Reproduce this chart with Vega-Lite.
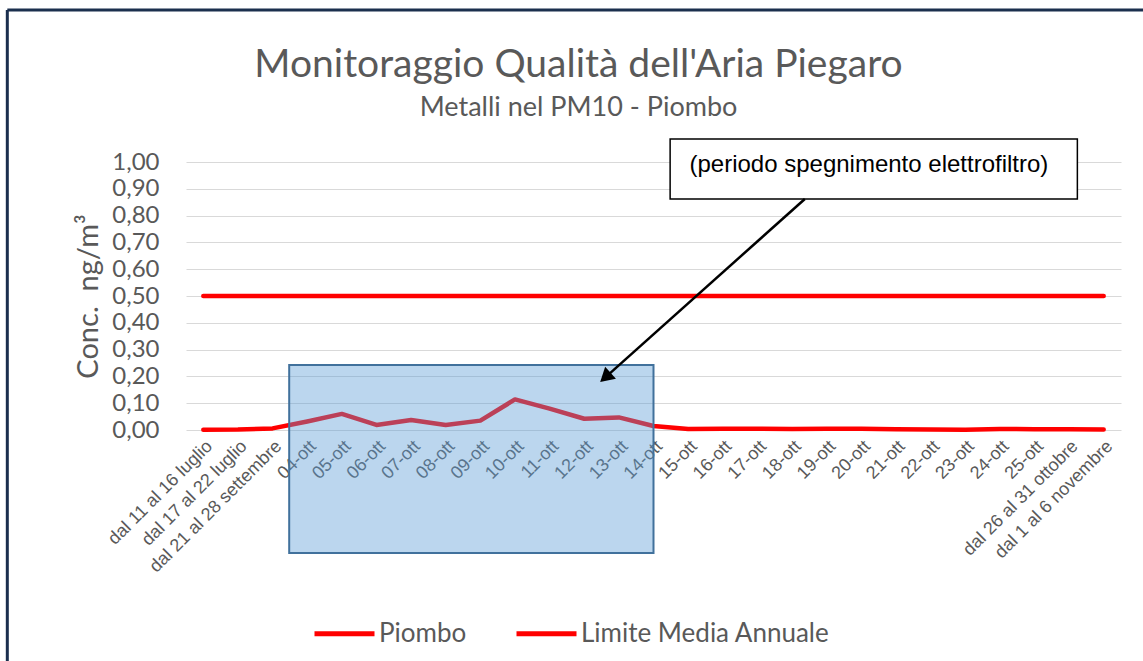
{
  "$schema": "https://vega.github.io/schema/vega-lite/v6.json",
  "width": 935,
  "height": 268,
  "autosize": "none",
  "padding": {"left": 186, "top": 162, "right": 22, "bottom": 231},
  "background": "white",
  "title": {
    "text": "Monitoraggio Qualità dell'Aria Piegaro",
    "subtitle": "Metalli nel PM10 - Piombo",
    "font": "Lato", "fontSize": 39, "fontWeight": "normal", "color": "#595959",
    "subtitleFont": "Lato", "subtitleFontSize": 27, "subtitleColor": "#595959",
    "subtitlePadding": 10, "anchor": "middle", "dx": -75, "offset": -112
  },
  "config": {"view": {"stroke": null}},
  "datasets": {
    "serie": [
      {"categoria": "dal 11 al 16 luglio", "serie": "Piombo", "valore": 0.001},
      {"categoria": "dal 17 al 22 luglio", "serie": "Piombo", "valore": 0.002},
      {"categoria": "dal 21 al 28 settembre", "serie": "Piombo", "valore": 0.006},
      {"categoria": "04-ott", "serie": "Piombo", "valore": 0.032},
      {"categoria": "05-ott", "serie": "Piombo", "valore": 0.060},
      {"categoria": "06-ott", "serie": "Piombo", "valore": 0.019},
      {"categoria": "07-ott", "serie": "Piombo", "valore": 0.037},
      {"categoria": "08-ott", "serie": "Piombo", "valore": 0.019},
      {"categoria": "09-ott", "serie": "Piombo", "valore": 0.035},
      {"categoria": "10-ott", "serie": "Piombo", "valore": 0.114},
      {"categoria": "11-ott", "serie": "Piombo", "valore": 0.080},
      {"categoria": "12-ott", "serie": "Piombo", "valore": 0.042},
      {"categoria": "13-ott", "serie": "Piombo", "valore": 0.047},
      {"categoria": "14-ott", "serie": "Piombo", "valore": 0.015},
      {"categoria": "15-ott", "serie": "Piombo", "valore": 0.004},
      {"categoria": "16-ott", "serie": "Piombo", "valore": 0.005},
      {"categoria": "17-ott", "serie": "Piombo", "valore": 0.005},
      {"categoria": "18-ott", "serie": "Piombo", "valore": 0.004},
      {"categoria": "19-ott", "serie": "Piombo", "valore": 0.005},
      {"categoria": "20-ott", "serie": "Piombo", "valore": 0.005},
      {"categoria": "21-ott", "serie": "Piombo", "valore": 0.003},
      {"categoria": "22-ott", "serie": "Piombo", "valore": 0.002},
      {"categoria": "23-ott", "serie": "Piombo", "valore": 0.001},
      {"categoria": "24-ott", "serie": "Piombo", "valore": 0.004},
      {"categoria": "25-ott", "serie": "Piombo", "valore": 0.003},
      {"categoria": "dal 26 al 31 ottobre", "serie": "Piombo", "valore": 0.003},
      {"categoria": "dal 1 al 6 novembre", "serie": "Piombo", "valore": 0.002},
      {"categoria": "dal 11 al 16 luglio", "serie": "Limite Media Annuale", "valore": 0.5},
      {"categoria": "dal 17 al 22 luglio", "serie": "Limite Media Annuale", "valore": 0.5},
      {"categoria": "dal 21 al 28 settembre", "serie": "Limite Media Annuale", "valore": 0.5},
      {"categoria": "04-ott", "serie": "Limite Media Annuale", "valore": 0.5},
      {"categoria": "05-ott", "serie": "Limite Media Annuale", "valore": 0.5},
      {"categoria": "06-ott", "serie": "Limite Media Annuale", "valore": 0.5},
      {"categoria": "07-ott", "serie": "Limite Media Annuale", "valore": 0.5},
      {"categoria": "08-ott", "serie": "Limite Media Annuale", "valore": 0.5},
      {"categoria": "09-ott", "serie": "Limite Media Annuale", "valore": 0.5},
      {"categoria": "10-ott", "serie": "Limite Media Annuale", "valore": 0.5},
      {"categoria": "11-ott", "serie": "Limite Media Annuale", "valore": 0.5},
      {"categoria": "12-ott", "serie": "Limite Media Annuale", "valore": 0.5},
      {"categoria": "13-ott", "serie": "Limite Media Annuale", "valore": 0.5},
      {"categoria": "14-ott", "serie": "Limite Media Annuale", "valore": 0.5},
      {"categoria": "15-ott", "serie": "Limite Media Annuale", "valore": 0.5},
      {"categoria": "16-ott", "serie": "Limite Media Annuale", "valore": 0.5},
      {"categoria": "17-ott", "serie": "Limite Media Annuale", "valore": 0.5},
      {"categoria": "18-ott", "serie": "Limite Media Annuale", "valore": 0.5},
      {"categoria": "19-ott", "serie": "Limite Media Annuale", "valore": 0.5},
      {"categoria": "20-ott", "serie": "Limite Media Annuale", "valore": 0.5},
      {"categoria": "21-ott", "serie": "Limite Media Annuale", "valore": 0.5},
      {"categoria": "22-ott", "serie": "Limite Media Annuale", "valore": 0.5},
      {"categoria": "23-ott", "serie": "Limite Media Annuale", "valore": 0.5},
      {"categoria": "24-ott", "serie": "Limite Media Annuale", "valore": 0.5},
      {"categoria": "25-ott", "serie": "Limite Media Annuale", "valore": 0.5},
      {"categoria": "dal 26 al 31 ottobre", "serie": "Limite Media Annuale", "valore": 0.5},
      {"categoria": "dal 1 al 6 novembre", "serie": "Limite Media Annuale", "valore": 0.5}
    ]
  },
  "layer": [
    {
      "data": {"name": "serie"},
      "mark": {"type": "line", "strokeWidth": 4.5, "strokeCap": "round", "strokeJoin": "round"},
      "encoding": {
        "x": {
          "field": "categoria", "type": "nominal", "sort": null,
          "scale": {"type": "band", "paddingInner": 0, "paddingOuter": 0},
          "axis": {
            "title": null, "labelAngle": -45, "labelFont": "Liberation Sans", "labelFontSize": 18,
            "labelColor": "#595959", "ticks": false, "domain": false, "grid": false,
            "labelPadding": 7, "labelOverlap": false, "labelLimit": 400
          }
        },
        "y": {
          "field": "valore", "type": "quantitative",
          "scale": {"domain": [0, 1]},
          "axis": {
            "title": "Conc.\u00a0 ng/m³", "titleFont": "Lato", "titleFontSize": 29, "titleFontWeight": "normal",
            "titleColor": "#595959", "titlePadding": 8,
            "values": [0, 0.1, 0.2, 0.3, 0.4, 0.5, 0.6, 0.7, 0.8, 0.9, 1],
            "tickCount": 12,
            "labelExpr": "replace(format(datum.value, '.2f'), '.', ',')",
            "labelFont": "Lato", "labelFontSize": 24, "labelColor": "#595959", "labelOverlap": false,
            "labelPadding": 27, "ticks": false, "domain": false,
            "grid": true, "gridColor": "#D9D9D9", "gridWidth": 1
          }
        },
        "color": {
          "field": "serie", "type": "nominal",
          "scale": {"domain": ["Piombo", "Limite Media Annuale"], "range": ["#FF0000", "#FF0000"]},
          "legend": {
            "title": null, "orient": "none", "legendX": 126, "legendY": 439, "direction": "horizontal",
            "symbolType": "stroke", "symbolSize": 3600, "symbolStrokeWidth": 5,
            "labelFont": "Lato", "labelFontSize": 26, "labelColor": "#595959", "labelLimit": 500,
            "labelOffset": 2, "columnPadding": 39
          }
        }
      }
    },
    {
      "layer": [
        {
          "data": {"values": [
            {"x": -5.66, "x2": 28, "y": 1.567, "y2": 1.567},
            {"x": -5.66, "x2": -5.66, "y": 1.567, "y2": -1}
          ]},
          "mark": {"type": "rule", "color": "#1B2F4E", "strokeWidth": 3},
          "encoding": {
            "x": {"field": "x", "type": "quantitative", "scale": {"domain": [-0.5, 26.5], "nice": false, "zero": false}, "axis": null},
            "x2": {"field": "x2"},
            "y": {"field": "y", "type": "quantitative", "scale": {"domain": [0, 1], "nice": false, "zero": false}, "axis": null},
            "y2": {"field": "y2"}
          }
        },
        {
          "data": {"values": [{"x": 2.48, "x2": 13.0, "y": 0.2425, "y2": -0.459}]},
          "mark": {"type": "rect", "fill": "#5B9BD5", "fillOpacity": 0.41, "stroke": "#41719C", "strokeWidth": 2},
          "encoding": {
            "x": {"field": "x", "type": "quantitative", "scale": {"domain": [-0.5, 26.5], "nice": false, "zero": false}, "axis": null},
            "x2": {"field": "x2"},
            "y": {"field": "y", "type": "quantitative", "scale": {"domain": [0, 1], "nice": false, "zero": false}, "axis": null},
            "y2": {"field": "y2"}
          }
        },
        {
          "data": {"values": [{"x": 13.48, "x2": 25.24, "y": 1.086, "y2": 0.862}]},
          "mark": {"type": "rect", "fill": "white", "stroke": "black", "strokeWidth": 1.5},
          "encoding": {
            "x": {"field": "x", "type": "quantitative", "scale": {"domain": [-0.5, 26.5], "nice": false, "zero": false}, "axis": null},
            "x2": {"field": "x2"},
            "y": {"field": "y", "type": "quantitative", "scale": {"domain": [0, 1], "nice": false, "zero": false}, "axis": null},
            "y2": {"field": "y2"}
          }
        },
        {
          "data": {"values": [{"x": 19.22, "y": 0.99, "testo": "(periodo spegnimento elettrofiltro)"}]},
          "mark": {"type": "text", "font": "Liberation Sans", "fontSize": 24, "color": "black", "align": "center", "baseline": "middle"},
          "encoding": {
            "x": {"field": "x", "type": "quantitative", "scale": {"domain": [-0.5, 26.5], "nice": false, "zero": false}, "axis": null},
            "y": {"field": "y", "type": "quantitative", "scale": {"domain": [0, 1], "nice": false, "zero": false}, "axis": null},
            "text": {"field": "testo"}
          }
        },
        {
          "data": {"values": [{"x": 17.37, "x2": 11.61, "y": 0.862, "y2": 0.1966}]},
          "mark": {"type": "rule", "color": "black", "strokeWidth": 2.5},
          "encoding": {
            "x": {"field": "x", "type": "quantitative", "scale": {"domain": [-0.5, 26.5], "nice": false, "zero": false}, "axis": null},
            "x2": {"field": "x2"},
            "y": {"field": "y", "type": "quantitative", "scale": {"domain": [0, 1], "nice": false, "zero": false}, "axis": null},
            "y2": {"field": "y2"}
          }
        },
        {
          "data": {"values": [{"x": 11.61, "y": 0.1966}]},
          "mark": {"type": "point", "shape": "triangle-up", "filled": true, "color": "black", "opacity": 1, "size": 260, "angle": 228},
          "encoding": {
            "x": {"field": "x", "type": "quantitative", "scale": {"domain": [-0.5, 26.5], "nice": false, "zero": false}, "axis": null},
            "y": {"field": "y", "type": "quantitative", "scale": {"domain": [0, 1], "nice": false, "zero": false}, "axis": null}
          }
        }
      ]
    }
  ],
  "resolve": {"scale": {"x": "independent", "y": "independent"}}
}
